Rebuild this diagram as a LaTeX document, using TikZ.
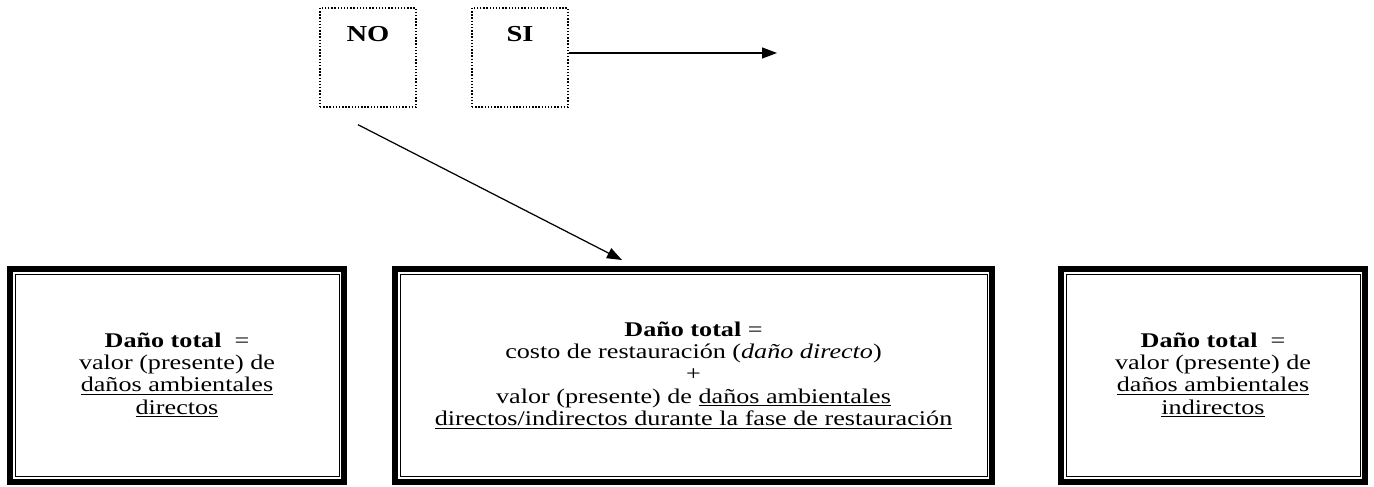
\documentclass[tikz,border=0pt]{standalone}
\usepackage{fontspec}
\setmainfont{Liberation Serif}[FakeStretch=1.25]
\usetikzlibrary{arrows.meta}

\begin{document}
\begin{tikzpicture}[
    font=\fontsize{11.9}{12.6}\selectfont,
    choice/.style={rectangle, draw, densely dotted, line width=0.8pt, minimum width=1.92cm, inner sep=0pt, text height=0.68cm, text depth=1.30cm, font=\fontsize{13}{14}\selectfont\bfseries},
    result/.style={rectangle, draw, line width=0.12cm, minimum height=4.26cm, align=center, inner sep=0pt},
    arrow/.style={-{Triangle[length=0.3cm,width=0.22cm]}, line width=0.7pt}
]
\useasboundingbox (0,0) rectangle (27.48,-9.74);

% Choices
\node[choice] (no) at (7.36,-1.15) {NO};
\node[choice] (si) at (10.40,-1.15) {SI};
\coordinate (siend) at (15.54,-1.06);

% Results
\node[result, minimum width=6.68cm] (direct) at (3.54,-7.51) {\textbf{Daño total}\ \ =\\valor (presente) de\\\underline{daños ambientales}\\\underline{directos}};
\node[result, minimum width=11.94cm] (restore) at (13.87,-7.51) {\textbf{Daño total} =\\costo de restauración (\textit{daño directo})\\+\\valor (presente) de \underline{daños ambientales}\\\underline{directos/indirectos durante la fase de restauración}};
\node[result, minimum width=6.08cm] (indirect) at (24.26,-7.51) {\textbf{Daño total}\ \ =\\valor (presente) de\\\underline{daños ambientales}\\\underline{indirectos}};

% Inner frames
\foreach \n in {direct,restore,indirect} {
    \draw[line width=0.5pt] ([shift={(0.16,-0.17)}]\n.north west) rectangle ([shift={(-0.16,0.17)}]\n.south east);
}

% Arrows
\draw[arrow] ([yshift=0.09cm]si.east) -- (siend);
\draw[arrow] ([xshift=-0.2cm,yshift=-0.34cm]no.south) -- ([xshift=-1.43cm,yshift=0.12cm]restore.north);

\end{tikzpicture}
\end{document}
